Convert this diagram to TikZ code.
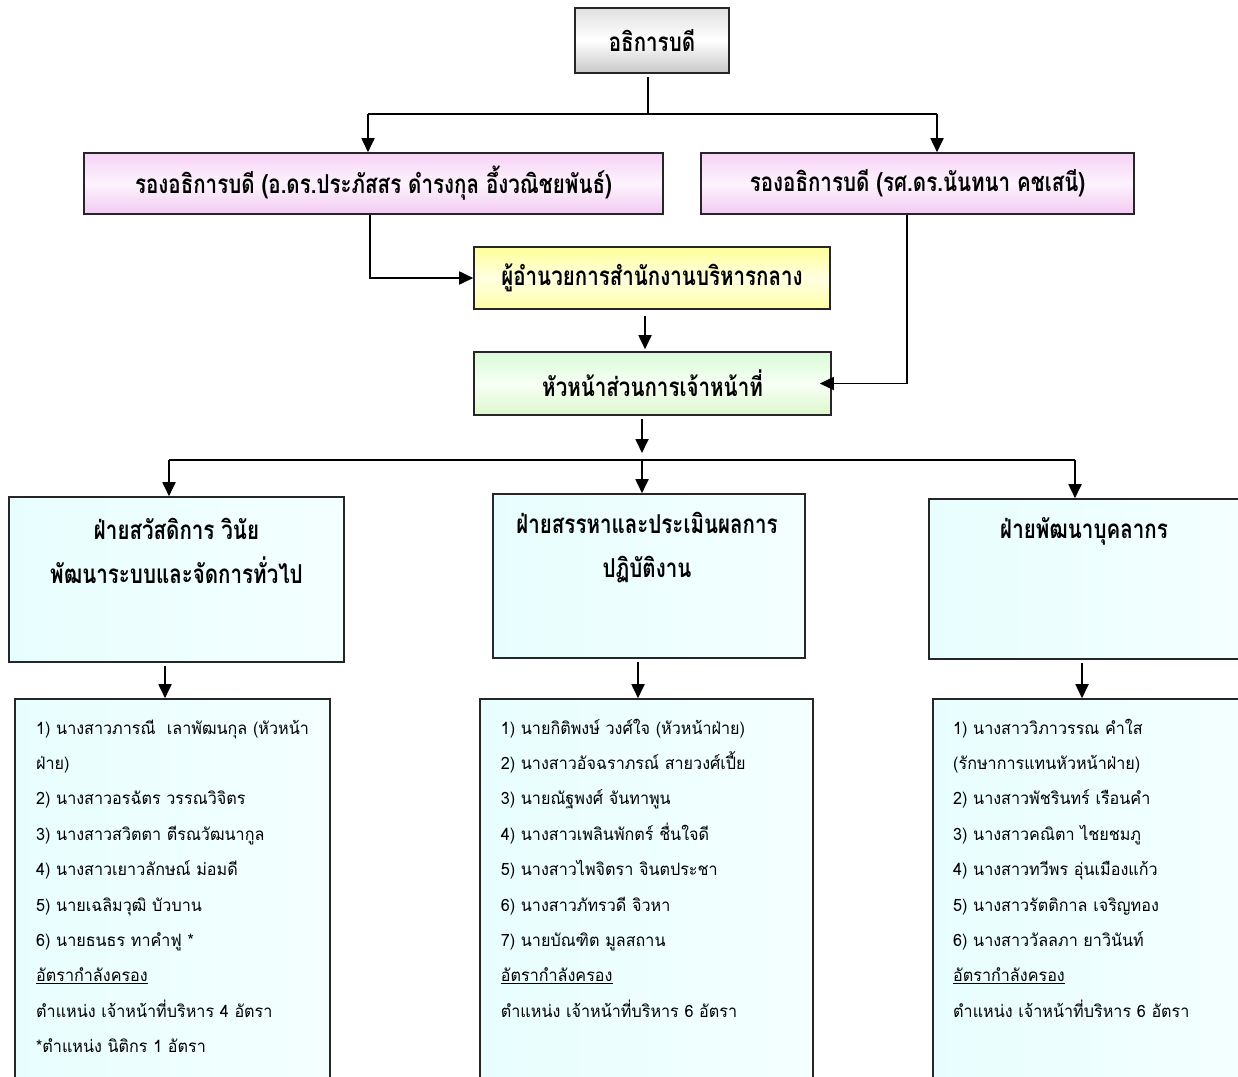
\documentclass[tikz,border=0pt]{standalone}
\usepackage{fontspec}
\usetikzlibrary{arrows.meta,calc}
\newfontfamily\thaihead[Script=Thai,FakeStretch=0.79]{Loma}
\newfontfamily\thaibody[Script=Thai,FakeStretch=0.95]{Loma}
\definecolor{pinkT}{HTML}{F6D3F6}
\definecolor{pinkM}{HTML}{FDF3FD}
\definecolor{pinkB}{HTML}{F2CAF2}
\definecolor{yelT}{HTML}{FFFF99}
\definecolor{yelM}{HTML}{FFFFE2}
\definecolor{yelB}{HTML}{FFFFA6}
\definecolor{grnT}{HTML}{D9FBD6}
\definecolor{grnM}{HTML}{F7FFF5}
\definecolor{grnB}{HTML}{DDF7CC}
\definecolor{cyanA}{HTML}{E8FEFE}
\definecolor{cyanB}{HTML}{F4FFFF}
\tikzset{
  box/.style={draw=black!85, line width=1.6pt, inner sep=0pt},
  arr/.style={line width=1.8pt, -{Triangle[length=14pt,width=13pt]}},
  ln/.style={line width=1.8pt},
  hd/.style={font={\thaihead\bfseries\fontsize{26}{44}\selectfont}, align=center, inner sep=0pt},
  bd/.style={font={\thaibody\fontsize{17}{35.4}\selectfont}, align=left, text width=420pt, anchor=base west, inner sep=0pt},
  grayfill/.style={top color=black!12, bottom color=black!22, middle color=white},
  pinkfill/.style={top color=pinkT, bottom color=pinkB, middle color=pinkM},
  yelfill/.style={top color=yelT, bottom color=yelB, middle color=yelM},
  grnfill/.style={top color=grnT, bottom color=grnB, middle color=grnM},
  cyanfill/.style={left color=cyanA, right color=cyanB}
}
\begin{document}
\begin{tikzpicture}[x=1pt,y=-1pt]
\useasboundingbox (0,0) rectangle (1238,1076);
\fill[white] (0,0) rectangle (1238,1076);
\begin{scope}
\clip (0,0) rectangle (1238,1076);
% boxes
\node[box, hd, grayfill, minimum width=154pt, minimum height=65pt] (top) at (652,40.5) {อธิการบดี};
\node[box, hd, pinkfill, minimum width=579pt, minimum height=61pt] (p1) at (373.5,183.5) {รองอธิการบดี (อ.ดร.ประภัสสร ดำรงกุล อึ้งวณิชยพันธ์)};
\node[box, hd, pinkfill, minimum width=433pt, minimum height=61pt] (p2) at (917.5,183.5) {รองอธิการบดี (รศ.ดร.นันทนา คชเสนี)};
\node[box, hd, yelfill, minimum width=356pt, minimum height=62pt] (yel) at (652,278) {ผู้อำนวยการสำนักงานบริหารกลาง};
\node[box, hd, grnfill, minimum width=357pt, minimum height=63pt] (grn) at (652.5,383.5) {หัวหน้าส่วนการเจ้าหน้าที่};
\node[box, cyanfill, minimum width=335pt, minimum height=165pt] (cL) at (176.5,579.5) {};
\node[box, cyanfill, minimum width=312pt, minimum height=164pt] (cM) at (649,576) {};
\node[box, cyanfill, minimum width=313pt, minimum height=160pt] (cR) at (1085.5,579) {};
\node[hd] (cLt) at (176.5,550.5) {ฝ่ายสวัสดิการ วินัย\\พัฒนาระบบและจัดการทั่วไป};
\node[hd] (cMt) at (647,547.5) {ฝ่ายสรรหาและประเมินผลการ\\ปฏิบัติงาน};
\node[hd] (cRt) at (1084,531) {ฝ่ายพัฒนาบุคลากร};
\node[box, cyanfill, minimum width=315pt, minimum height=400pt] (bL) at (172.5,899) {};
\node[box, cyanfill, minimum width=333pt, minimum height=400pt] (bM) at (646.5,899) {};
\node[box, cyanfill, minimum width=313pt, minimum height=400pt] (bR) at (1089.5,899) {};
% lists
\node[bd] (tL) at (36,734) {1) นางสาวภารณี\ \ เลาพัฒนกุล (หัวหน้า\\
ฝ่าย)\\
2) นางสาวอรฉัตร วรรณวิจิตร\\
3) นางสาวสวิตตา ตีรณวัฒนากูล\\
4) นางสาวเยาวลักษณ์ ม่อมดี\\
5) นายเฉลิมวุฒิ บัวบาน\\
6) นายธนธร ทาคำฟู *\\
\underline{อัตรากำลังครอง}\\
ตำแหน่ง เจ้าหน้าที่บริหาร 4 อัตรา\\
{*}ตำแหน่ง นิติกร 1 อัตรา};
\node[bd] (tM) at (500.7,734) {1) นายกิติพงษ์ วงศ์ใจ (หัวหน้าฝ่าย)\\
2) นางสาวอัจฉราภรณ์ สายวงศ์เปี้ย\\
3) นายณัฐพงศ์ จันทาพูน\\
4) นางสาวเพลินพักตร์ ชื่นใจดี\\
5) นางสาวไพจิตรา จินตประชา\\
6) นางสาวภัทรวดี จิวหา\\
7) นายบัณฑิต มูลสถาน\\
\underline{อัตรากำลังครอง}\\
ตำแหน่ง เจ้าหน้าที่บริหาร 6 อัตรา};
\node[bd] (tR) at (953,734) {1) นางสาววิภาวรรณ คำใส\\
(รักษาการแทนหัวหน้าฝ่าย)\\
2) นางสาวพัชรินทร์ เรือนคำ\\
3) นางสาวคณิตา ไชยชมภู\\
4) นางสาวทวีพร อุ่นเมืองแก้ว\\
5) นางสาวรัตติกาล เจริญทอง\\
6) นางสาววัลลภา ยาวินันท์\\
\underline{อัตรากำลังครอง}\\
ตำแหน่ง เจ้าหน้าที่บริหาร 6 อัตรา};
% connectors
\coordinate (j0) at (648,114);
\coordinate (jL) at (368,114);
\coordinate (jR) at (937,114);
\draw[line width=1.4pt, shorten <=3pt] (top.south -| j0) -- (j0);
\draw[ln] (jL) -- (jR);
\draw[arr] (jL) -- (jL |- p1.north);
\draw[arr] (jR) -- (jR |- p2.north);
\coordinate (k1) at (370,0);
\coordinate (k2) at (907,0);
\coordinate (k3) at (645,0);
\draw[arr] (p1.south -| k1) |- (yel.west);
\draw[arr, shorten >=-12pt] (p2.south -| k2) |- (grn.east);
\draw[arr, shorten <=6pt, shorten >=2pt] (yel.south -| k3) -- (grn.north -| k3);
\coordinate (busL) at (169,460);
\coordinate (busM) at (642,460);
\coordinate (busR) at (1075,460);
\draw[arr, shorten <=3pt, shorten >=7pt] (grn.south -| busM) -- (busM);
\draw[ln] (busL) -- (busR);
\draw[arr] (busL) -- (busL |- cL.north);
\draw[arr] (busM) -- (busM |- cM.north);
\draw[arr] (busR) -- (busR |- cR.north);
\coordinate (m1) at (165,0);
\coordinate (m2) at (638,0);
\coordinate (m3) at (1082,0);
\draw[arr, shorten <=3pt] (cL.south -| m1) -- (bL.north -| m1);
\draw[arr, shorten <=3pt] (cM.south -| m2) -- (bM.north -| m2);
\draw[arr, shorten <=3pt] (cR.south -| m3) -- (bR.north -| m3);
\end{scope}
\end{tikzpicture}
\end{document}
